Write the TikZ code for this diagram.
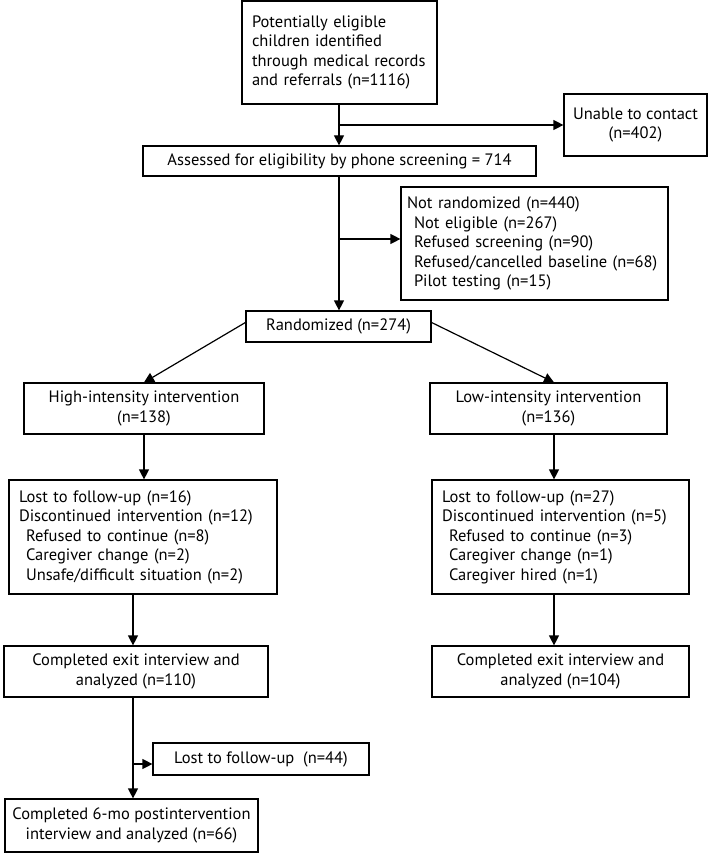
\documentclass[tikz,border=0pt]{standalone}
\usepackage{fontspec}
\setmainfont{PT Sans}
\usetikzlibrary{arrows.meta}
\tikzset{box/.style={draw=black, line width=1.2pt, inner sep=0pt, align=center,
  font=\fontsize{16.5}{19.5}\selectfont},
%left aligned list boxes
lbox/.style={box, align=left, inner xsep=10pt},
arr/.style={-{Triangle[length=10pt,width=10pt]}, line width=1.2pt}}
\newcommand{\ind}{\hspace*{7pt}}

\begin{document}
\begin{tikzpicture}[x=1pt,y=-1pt]
\useasboundingbox (0,0) rectangle (710,853);
% screening
\node[lbox, text width=175pt, minimum height=103pt] (elig) at (339.5,52.5)
  {Potentially eligible\\children identified\\through medical records\\and referrals (n=1116)};
\node[box, minimum width=143pt, minimum height=62pt] (unable) at (635.5,125)
  {Unable to contact\\(n=402)};
\node[box, minimum width=393pt, minimum height=30pt] (assess) at (339.5,161)
  {Assessed for eligibility by phone screening = 714};
\node[lbox, inner xsep=6pt, text width=255pt, minimum height=113pt] (notrand) at (534.5,243.5)
  {Not randomized (n=440)\\\ind Not eligible (n=267)\\\ind Refused screening (n=90)\\
   \ind Refused/cancelled baseline (n=68)\\\ind Pilot testing (n=15)};
\node[box, minimum width=185pt, minimum height=31pt] (rand) at (338.5,326.5)
  {Randomized (n=274)};

% two arms
\node[box, minimum width=240pt, minimum height=51pt] (high) at (144,408.5)
  {High-intensity intervention\\(n=138)};
\node[box, minimum width=237pt, minimum height=51pt] (low) at (548.5,408.5)
  {Low-intensity intervention\\(n=136)};
\node[lbox, text width=248pt, minimum height=114pt] (lostL) at (143,537)
  {Lost to follow-up (n=16)\\Discontinued intervention (n=12)\\\ind Refused to continue (n=8)\\
   \ind Caregiver change (n=2)\\\ind Unsafe/difficult situation (n=2)};
\node[lbox, text width=237pt, minimum height=114pt] (lostR) at (560.5,537)
  {Lost to follow-up (n=27)\\Discontinued intervention (n=5)\\\ind Refused to continue (n=3)\\
   \ind Caregiver change (n=1)\\\ind Caregiver hired (n=1)};
\node[box, minimum width=264pt, minimum height=51pt] (compL) at (136,671.5)
  {Completed exit interview and\\analyzed (n=110)};
\node[box, minimum width=257pt, minimum height=51pt] (compR) at (560.5,671.5)
  {Completed exit interview and\\analyzed (n=104)};

% 6-mo follow-up
\node[box, minimum width=216pt, minimum height=32pt] (lost44) at (261,759)
  {Lost to follow-up\ \ (n=44)};
\node[box, minimum width=253pt, minimum height=53pt] (final) at (131.5,825.5)
  {Completed 6-mo postintervention\\interview and analyzed (n=66)};

%connectors
\coordinate (b1) at (339,125);
\coordinate (b2) at (339,239);
\coordinate (b3) at (133,764);
\coordinate (cr) at (554,0);
\draw[arr] (elig.south -| b1) -- (assess.north -| b1);
\draw[arr] (b1) -- (unable.west |- b1);
\draw[arr] (assess.south -| b2) -- (rand.north -| b2);
\draw[arr] (b2) -- (notrand.west |- b2);
\draw[arr] ([yshift=4pt]rand.west) -- (high.north);
\draw[arr] ([yshift=4pt]rand.east) -- (low.north -| cr);
\draw[arr] (high.south) -- (lostL.north -| high.south);
\draw[arr] (low.south -| cr) -- (lostR.north -| cr);
\draw[arr] (lostL.south -| b3) -- (compL.north -| b3);
\draw[arr] (lostR.south -| cr) -- (compR.north -| cr);
\draw[arr] (compL.south -| b3) -- (final.north -| b3);
\draw[arr] (b3) -- (lost44.west |- b3);
\end{tikzpicture}
\end{document}
